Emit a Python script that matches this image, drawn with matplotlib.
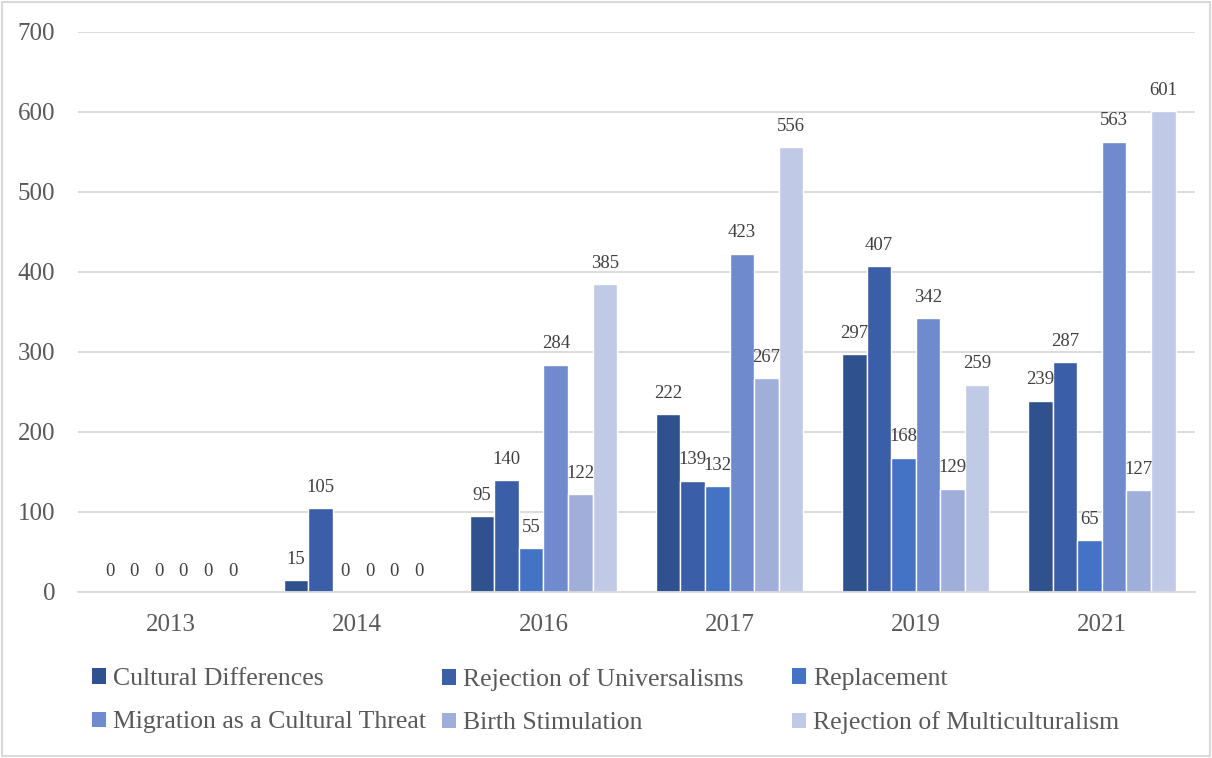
import numpy as np
from matplotlib import pyplot as plt
from matplotlib.patches import Patch, Rectangle

years = ["2013", "2014", "2016", "2017", "2019", "2021"]
series_names = ["Cultural Differences", "Rejection of Universalisms", "Replacement",
                "Migration as a Cultural Threat", "Birth Stimulation",
                "Rejection of Multiculturalism"]
cultural_differences = [0, 15, 95, 222, 297, 239]
rejection_universalisms = [0, 105, 140, 139, 407, 287]
replacement = [0, 0, 55, 132, 168, 65]
migration_threat = [0, 0, 284, 423, 342, 563]
birth_stimulation = [0, 0, 122, 267, 129, 127]
rejection_multiculturalism = [0, 0, 385, 556, 259, 601]
colors = ["#2F528F", "#3A5EA8", "#4472C4", "#6F8BCD", "#A0AEDA", "#C0CAE6"]

all_series = [cultural_differences, rejection_universalisms, replacement,
              migration_threat, birth_stimulation, rejection_multiculturalism]

plt.rcParams['font.family'] = ['Liberation Serif', 'DejaVu Serif']

fig = plt.figure(figsize=(12.12, 7.58), dpi=100)
ax = fig.add_axes([78 / 1212, 1 - 592 / 758, 1117 / 1212, 560 / 758])

x = np.arange(len(years))
bw = 0.132
for i, (vals, col) in enumerate(zip(all_series, colors)):
    pos = x + (i - 2.5) * bw
    ax.bar(pos, vals, width=bw, color=col, edgecolor="white", linewidth=1.0,
           label=series_names[i], zorder=3)
    for p, v in zip(pos, vals):
        ax.annotate(str(v), (p, v), xytext=(0, 9), textcoords="offset points",
                    ha="center", va="bottom", fontsize=13.5, color="#404040",
                    zorder=6)

ax.set_xlim(-0.5, len(years) - 0.5)
ax.set_ylim(0, 700)
ax.set_yticks(range(0, 701, 100))
ax.set_xticks(x)
ax.set_xticklabels(years)
ax.yaxis.grid(True, color="#D9D9D9", linewidth=1.3, zorder=0)
ax.set_axisbelow(True)
for s in ["top", "right", "left"]:
    ax.spines[s].set_visible(False)
ax.spines["bottom"].set_color("#D9D9D9")
ax.spines["bottom"].set_linewidth(1.3)
ax.spines["bottom"].set_zorder(4)
ax.tick_params(axis="both", length=0, labelsize=18, labelcolor="#595959")
ax.tick_params(axis="y", pad=16.5)
ax.tick_params(axis="x", pad=16)

handles = [Patch(facecolor=c, edgecolor="none") for c in colors]
cols = [[0, 3], [1, 4], [2, 5]]
xs = [82 / 1212, 432 / 1212, 782 / 1212]
for cx, idx in zip(xs, cols):
    leg = fig.legend([handles[k] for k in idx], [series_names[k] for k in idx],
                     loc="upper left", bbox_to_anchor=(cx, 1 - 658 / 758),
                     frameon=False, fontsize=18.5, handlelength=0.55,
                     handleheight=0.55, handletextpad=0.25, labelspacing=0.82,
                     borderaxespad=0)
    for t in leg.get_texts():
        t.set_color("#595959")

fig.patches.append(Rectangle((0.002, 0.002), 0.996, 0.996, transform=fig.transFigure,
                             fill=False, edgecolor="#D9D9D9", linewidth=1.5))

fig.savefig("out.png", dpi=100)
